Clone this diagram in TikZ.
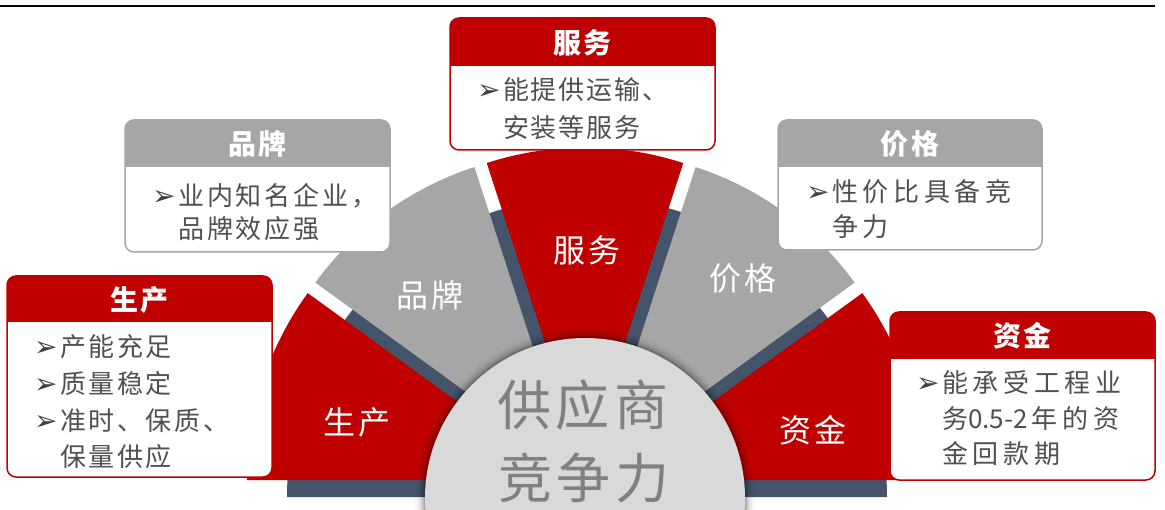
\documentclass[tikz,border=0pt]{standalone}
\usepackage{fontspec}
\setmainfont{Noto Sans CJK SC}
\newfontfamily\cjk{Noto Sans CJK SC}
\newfontfamily\dv{DejaVu Sans}
\usetikzlibrary{calc}
\definecolor{myred}{HTML}{C00000}
\definecolor{mygray}{HTML}{A6A6A6}
\definecolor{slate}{HTML}{44546A}
\definecolor{innerfill}{HTML}{D9D9D9}
\definecolor{innertext}{HTML}{808080}
\definecolor{bodytext}{HTML}{505050}
\definecolor{arrowcol}{HTML}{404040}
\newcommand{\arr}{\makebox[25pt][l]{\raisebox{0pt}{\dv\fontsize{28}{28}\selectfont\color{arrowcol}\hspace*{-1pt}➢}}}
\newcommand{\ind}{\hspace*{25pt}}
\newcommand{\nols}[1]{{\addfontfeature{LetterSpace=0}#1}}
\newcommand{\infobox}[6]{%
  \fill[white,rounded corners=9pt] (#1,-#3) rectangle (#2,-#5);
  \fill[#6,rounded corners=9pt] (#1,-#3) rectangle (#2,-#4);
  \fill[#6] (#1,-#4+10) rectangle (#2,-#4);
  \draw[#6,line width=1.5pt,rounded corners=9pt] (#1,-#3) rectangle (#2,-#5);
}
\begin{document}
\begin{tikzpicture}[x=1pt,y=1pt,
  secl/.style={text=white,font=\cjk\fontsize{32}{36}\selectfont\addfontfeature{LetterSpace=8},inner sep=0pt},
  innerl/.style={text=innertext,font=\cjk\fontsize{54}{60}\selectfont\addfontfeature{LetterSpace=8},inner sep=0pt},
  headl/.style={text=white,font=\cjk\bfseries\fontsize{28}{32}\selectfont\addfontfeature{LetterSpace=10},inner sep=0pt},
  bodyl/.style={text=bodytext,anchor=base west,inner sep=0pt,font=\cjk\fontsize{26}{30}\selectfont\addfontfeature{LetterSpace=#1}},
  bodyl/.default=10]
\useasboundingbox (0,0) rectangle (1165,-510);
\clip (0,0) rectangle (1165,-510);
% top rule
\coordinate (tl) at (0,-6);
\coordinate (tr) at (1155,-6);
\draw[line width=2.5pt] (tl) -- (tr);
% slate base
\fill[slate] (287,-497) arc[start angle=180,delta angle=-180,radius=300] -- cycle;
% sectors
\coordinate (C) at (585,-486.5);
\foreach \a/\col in {144/myred,108/mygray,72/myred,36/mygray,0/myred}{
  \pgfmathsetmacro\b{\a+18}
  \fill[\col] ($(C)+(\b:21)$) -- ++(\a:318) arc[start angle=\a,delta angle=36,radius=318] -- cycle;
}
% inner circle with soft shadow
\foreach \r/\o in {170/0.03,167/0.05,165/0.07,163/0.1,161.5/0.14}{
  \fill[black,opacity=\o] (585,-498) circle (\r);
}
\fill[innerfill] (585,-498) circle (160);
% sector labels
\node[secl] (ssc) at (357,-422) {生产};
\node[secl] (spp) at (430,-295) {品牌};
\node[secl] (sfw) at (587,-250) {服务};
\node[secl] (sjg) at (743,-278) {价格};
\node[secl] (szj) at (813,-430) {资金};
\node[innerl] (in1) at (583,-405) {供应商};
\node[innerl] (in2) at (584,-478) {竞争力};
% boxes
\infobox{450}{715}{18}{66}{150}{myred}
\node[headl] (hfw) at (582.5,-43) {服务};
\node[bodyl=7] (fw1) at (478,-100) {\arr 能提供运输、};
\node[bodyl=7] (fw2) at (478,-138) {\ind 安装等服务};
\infobox{125}{390}{120}{167}{252}{mygray}
\node[headl] (hpp) at (257.5,-144) {品牌};
\node[bodyl=11] (pp1) at (153,-206) {\arr 业内知名企业，};
\node[bodyl=11] (pp2) at (153,-239) {\ind 品牌效应强};
\infobox{778}{1042}{120}{167}{250}{mygray}
\node[headl] (hjg) at (910,-144) {价格};
\node[bodyl=18] (jg1) at (807,-202) {\arr 性价比具备竞};
\node[bodyl=18] (jg2) at (807,-237) {\ind 争力};
\infobox{7}{272}{276}{322}{477}{myred}
\node[headl] (hsc) at (139.5,-300) {生产};
\node[bodyl=10] (sc1) at (35,-357) {\arr 产能充足};
\node[bodyl=10] (sc2) at (35,-394) {\arr 质量稳定};
\node[bodyl=10] (sc3) at (35,-431) {\arr 准时、保质、};
\node[bodyl=10] (sc4) at (35,-467) {\ind 保量供应};
\infobox{890}{1155}{312}{359}{480}{myred}
\node[headl] (hzj) at (1022.5,-336) {资金};
\node[bodyl=18] (zj1) at (917,-393) {\arr 能承受工程业};
\node[bodyl=18] (zj2) at (917,-429) {\ind 务\nols{0.5-2}\hspace{4pt}年的资};
\node[bodyl=18] (zj3) at (917,-464) {\ind 金回款期};
\end{tikzpicture}
\end{document}
